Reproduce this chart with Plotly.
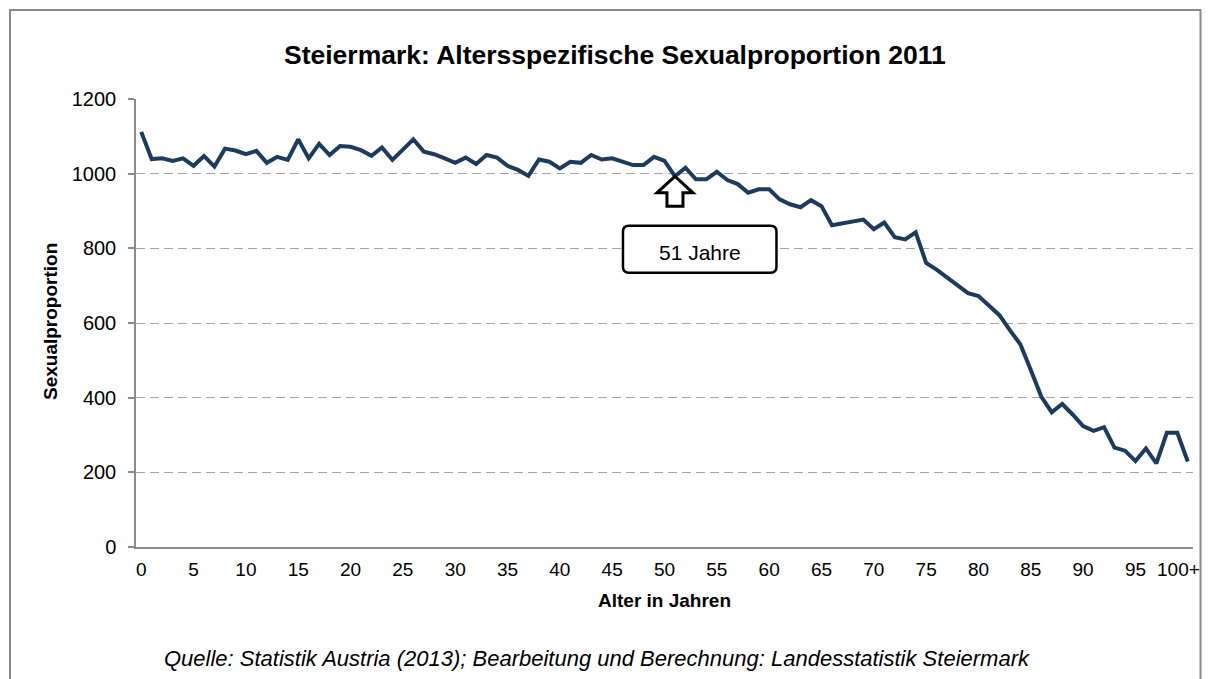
import plotly.graph_objects as go

# ---------------- data ----------------
AGES = list(range(101))
AGE_LABELS = [str(a) for a in range(100)] + ["100+"]
TICK_AGES = list(range(0, 101, 5))
TICK_LABELS = [AGE_LABELS[a] for a in TICK_AGES]

SEX_RATIO = [
    1112, 1039, 1041, 1034, 1041, 1021, 1047, 1019, 1067, 1062,
    1052, 1061, 1029, 1045, 1037, 1092, 1041, 1080, 1050, 1074,
    1072, 1063, 1048, 1070, 1037, 1063, 1092, 1059, 1052, 1041,
    1029, 1043, 1026, 1050, 1043, 1021, 1010, 994, 1038, 1032,
    1014, 1032, 1029, 1050, 1038, 1041, 1032, 1023, 1023, 1045,
    1034, 993, 1016, 985, 985, 1005, 983, 972, 949, 958,
    958, 931, 918, 910, 929, 913, 862, 867, 871, 877,
    851, 869, 830, 824, 843, 761, 743, 722, 704, 680,
    672, 646, 621, 581, 543, 474, 403, 361, 383, 355,
    324, 311, 321, 266, 258, 230, 264, 224, 306, 306,
    229,
]

Y_TICKS = [0, 200, 400, 600, 800, 1000, 1200]
ANNOT_AGE = 51
ANNOT_TEXT = "51 Jahre"

TITLE = "Steiermark: Altersspezifische Sexualproportion 2011"
X_TITLE = "Alter in Jahren"
Y_TITLE = "Sexualproportion"
SOURCE = "Quelle: Statistik Austria (2013); Bearbeitung und Berechnung: Landesstatistik Steiermark"

# ---------------- layout geometry ----------------
# the page body has an 8px margin on every side, so the figure is drawn smaller
OFF = 8
W_FIG, H_FIG = 1210 - 2 * OFF, 679 - OFF
PLOT_LEFT, PLOT_RIGHT, PLOT_TOP, PLOT_BOTTOM = 136, 1193, 99, 547  # page pixels
L = PLOT_LEFT - OFF
R = W_FIG - (PLOT_RIGHT - OFF)
T = PLOT_TOP - OFF
B = H_FIG - (PLOT_BOTTOM - OFF)
PW = W_FIG - L - R
PH = H_FIG - T - B
X_RANGE = [-0.5, 100.5]
Y_RANGE = [0, 1200]
XS = PW / (X_RANGE[1] - X_RANGE[0])
YS = PH / (Y_RANGE[1] - Y_RANGE[0])


def px_x(p):
    return (p - OFF - L) / PW


def px_y(p):
    return (H_FIG - B - (p - OFF)) / PH


FONT = "Liberation Sans, Arial, sans-serif"
LINE_COLOR = "#1d3a5f"

fig = go.Figure()
fig.add_trace(go.Scatter(
    x=AGES, y=SEX_RATIO, mode="lines",
    line=dict(color=LINE_COLOR, width=4),
    hovertext=AGE_LABELS, showlegend=False,
))

# ---------- arrow + rounded label box anchored at the annotated age ----------
tip_x = ANNOT_AGE
tip_y = SEX_RATIO[ANNOT_AGE]


def pt(dxp, dyp):
    return f"{tip_x + dxp / XS:.4f},{tip_y - dyp / YS:.4f}"


arrow_pts = [(0, 0), (18, 16.5), (8, 16.5), (8, 30), (-8, 30), (-8, 16.5), (-18, 16.5)]
arrow_path = "M " + " L ".join(pt(a, b) for a, b in arrow_pts) + " Z"

x0, x1, y0, y1, r = -52, 101.5, 49.5, 96.5, 6
box_path = (
    f"M {pt(x0 + r, y0)} L {pt(x1 - r, y0)} Q {pt(x1, y0)} {pt(x1, y0 + r)} "
    f"L {pt(x1, y1 - r)} Q {pt(x1, y1)} {pt(x1 - r, y1)} "
    f"L {pt(x0 + r, y1)} Q {pt(x0, y1)} {pt(x0, y1 - r)} "
    f"L {pt(x0, y0 + r)} Q {pt(x0, y0)} {pt(x0 + r, y0)} Z"
)

shapes = [
    dict(type="path", path=arrow_path, xref="x", yref="y",
         line=dict(color="black", width=3), fillcolor="white", layer="above"),
    dict(type="path", path=box_path, xref="x", yref="y",
         line=dict(color="black", width=2.5), fillcolor="white", layer="above"),
    # outer chart frame
    dict(type="rect", xref="paper", yref="paper",
         x0=px_x(10), x1=px_x(1200.5), y0=px_y(720), y1=px_y(10),
         line=dict(color="#8a8a8a", width=2), fillcolor="rgba(0,0,0,0)", layer="below"),
]


def label(text, xp, yp, size, xanchor="center", **kw):
    return dict(text=text, x=px_x(xp), y=px_y(yp), xref="paper", yref="paper",
                xanchor=xanchor, yanchor="middle", showarrow=False,
                font=dict(family=FONT, size=size, color="black"), **kw)


# the last tick label ("100+") would overflow the page edge, so it is drawn
# as an annotation kept just inside the figure
shown_ticktext = TICK_LABELS[:-1] + [""]

annotations = [
    dict(text=ANNOT_TEXT, x=tip_x + ((x0 + x1) / 2) / XS, y=tip_y - ((y0 + y1) / 2 + 3) / YS,
         xref="x", yref="y", xanchor="center", yanchor="middle", showarrow=False,
         font=dict(family=FONT, size=21, color="black")),
    label(f"<b>{TITLE}</b>", 615, 55, 26.5),
    label(f"<b>{X_TITLE}</b>", 664, 600, 19),
    label(f"<b>{Y_TITLE}</b>", 50, 322, 19, textangle=-90),
    label(f"<i>{SOURCE}</i>", 597, 658, 22),
    label(TICK_LABELS[-1], 1201.5, 569.5, 19, xanchor="right"),
]

fig.update_layout(
    width=W_FIG, height=H_FIG,
    margin=dict(l=L, r=R, t=T, b=B, pad=0),
    paper_bgcolor="white", plot_bgcolor="white",
    shapes=shapes, annotations=annotations,
    xaxis=dict(
        range=X_RANGE, tickmode="array", tickvals=TICK_AGES, ticktext=shown_ticktext,
        showgrid=False, zeroline=False, showline=True, linecolor="#8c8c8c", linewidth=1.5,
        ticks="", ticklabelstandoff=4,
        tickfont=dict(family=FONT, size=19, color="black"),
    ),
    yaxis=dict(
        range=Y_RANGE, tickmode="array", tickvals=Y_TICKS,
        showgrid=True, gridcolor="#a6a6a6", gridwidth=1.2, griddash="9px,5px",
        zeroline=False, showline=True, linecolor="#8c8c8c", linewidth=1.5,
        ticks="outside", ticklen=6, tickcolor="#8c8c8c", tickwidth=1.5,
        ticklabelstandoff=8,
        tickfont=dict(family=FONT, size=20, color="black"),
    ),
)

fig.write_html("out.html", config={"displayModeBar": False})
